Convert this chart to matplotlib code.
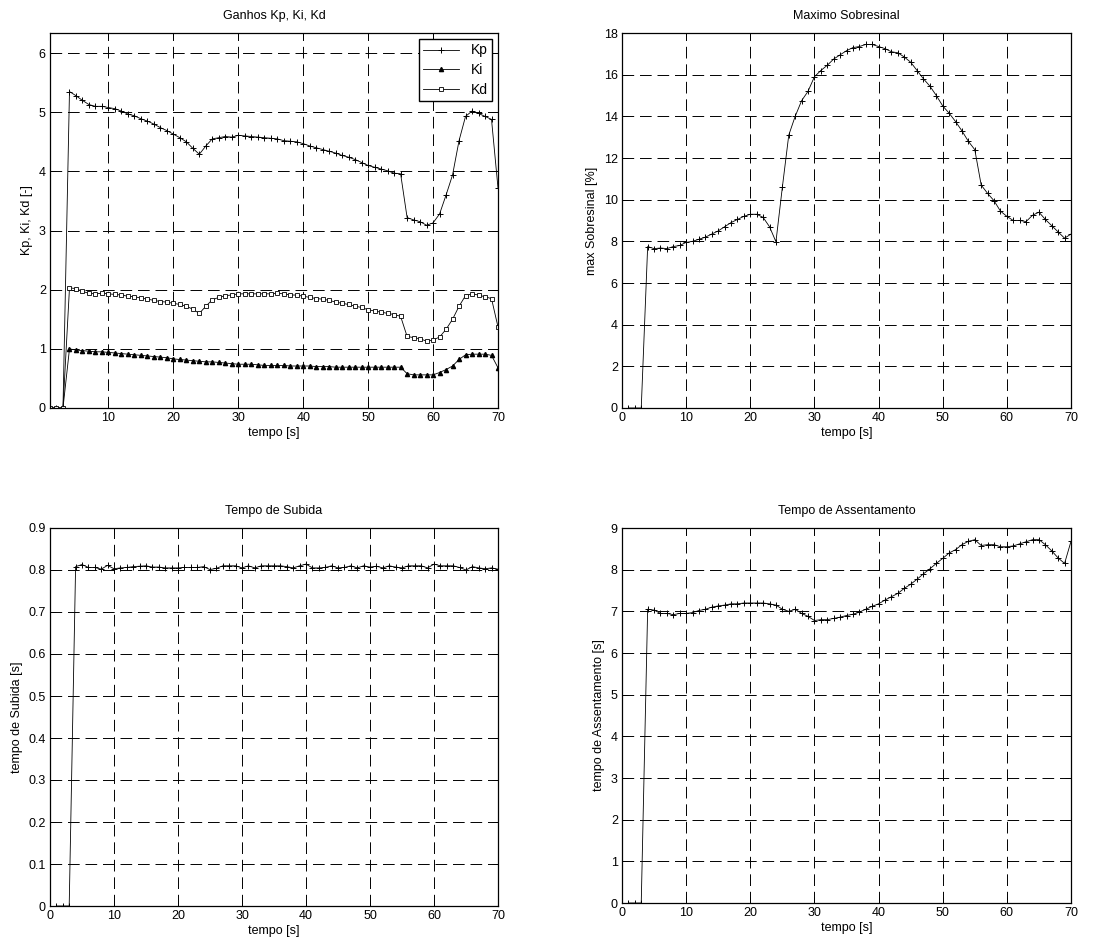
import numpy as np
import matplotlib.pyplot as plt

plt.rcParams['font.family'] = ['Liberation Sans', 'DejaVu Sans']
plt.rcParams['font.size'] = 9

tempo = np.arange(1, 71)

kp = [0, 0, 0, 5.35, 5.28, 5.20, 5.13, 5.10, 5.10, 5.08, 5.06, 5.02, 4.97, 4.94,
      4.89, 4.85, 4.80, 4.74, 4.69, 4.63, 4.57, 4.50, 4.39, 4.29, 4.43, 4.55,
      4.57, 4.59, 4.58, 4.61, 4.60, 4.59, 4.58, 4.57, 4.56, 4.55, 4.52, 4.51,
      4.50, 4.47, 4.43, 4.40, 4.37, 4.34, 4.31, 4.27, 4.24, 4.20, 4.15, 4.10,
      4.07, 4.04, 4.01, 3.97, 3.96, 3.22, 3.18, 3.15, 3.09, 3.13, 3.28, 3.60,
      3.94, 4.52, 4.93, 5.02, 4.98, 4.93, 4.88, 3.72]
ki = [0, 0, 0, 1.00, 0.98, 0.97, 0.96, 0.95, 0.95, 0.94, 0.93, 0.92, 0.91, 0.90,
      0.89, 0.88, 0.87, 0.86, 0.85, 0.83, 0.82, 0.81, 0.80, 0.79, 0.78, 0.78,
      0.77, 0.76, 0.75, 0.74, 0.74, 0.74, 0.73, 0.72, 0.72, 0.72, 0.72, 0.71,
      0.71, 0.71, 0.71, 0.70, 0.70, 0.70, 0.69, 0.69, 0.69, 0.69, 0.69, 0.69,
      0.69, 0.69, 0.69, 0.69, 0.69, 0.58, 0.56, 0.56, 0.56, 0.56, 0.60, 0.65,
      0.71, 0.82, 0.90, 0.91, 0.91, 0.91, 0.89, 0.68]
kd = [0, 0, 0, 2.03, 2.02, 1.97, 1.94, 1.93, 1.94, 1.93, 1.92, 1.91, 1.89, 1.88,
      1.86, 1.84, 1.82, 1.80, 1.79, 1.77, 1.75, 1.72, 1.67, 1.60, 1.72, 1.83,
      1.87, 1.90, 1.91, 1.93, 1.93, 1.93, 1.93, 1.93, 1.93, 1.94, 1.93, 1.91,
      1.91, 1.89, 1.87, 1.85, 1.84, 1.82, 1.79, 1.77, 1.75, 1.72, 1.70, 1.66,
      1.64, 1.62, 1.60, 1.58, 1.55, 1.21, 1.19, 1.17, 1.13, 1.15, 1.20, 1.33,
      1.50, 1.72, 1.90, 1.93, 1.91, 1.88, 1.85, 1.37]

sobresinal = [0, 0, 0, 7.75, 7.65, 7.68, 7.65, 7.75, 7.80, 7.95, 8.00, 8.10, 8.20,
              8.35, 8.50, 8.70, 8.90, 9.05, 9.20, 9.30, 9.30, 9.15, 8.70, 7.98,
              10.6, 13.1, 14.0, 14.75, 15.2, 15.9, 16.2, 16.45, 16.75, 16.95,
              17.15, 17.3, 17.35, 17.45, 17.45, 17.35, 17.25, 17.1, 17.05, 16.85,
              16.6, 16.2, 15.8, 15.45, 15.0, 14.5, 14.15, 13.75, 13.3, 12.8, 12.4,
              10.7, 10.3, 9.95, 9.45, 9.2, 9.0, 9.0, 8.95, 9.25, 9.4, 9.05, 8.75,
              8.45, 8.15, 8.35]

subida = [0, 0, 0, 0.808, 0.813, 0.806, 0.806, 0.802, 0.811, 0.803, 0.805, 0.806,
          0.808, 0.809, 0.810, 0.807, 0.807, 0.805, 0.805, 0.805, 0.806, 0.806,
          0.806, 0.808, 0.801, 0.804, 0.810, 0.810, 0.810, 0.805, 0.810, 0.805,
          0.810, 0.810, 0.810, 0.810, 0.808, 0.805, 0.810, 0.814, 0.805, 0.805,
          0.806, 0.810, 0.805, 0.806, 0.810, 0.805, 0.810, 0.807, 0.809, 0.805,
          0.810, 0.807, 0.805, 0.810, 0.810, 0.810, 0.805, 0.814, 0.810, 0.810,
          0.810, 0.806, 0.800, 0.808, 0.805, 0.803, 0.805, 0.802]

assentamento = [0, 0, 0, 7.05, 7.03, 6.95, 6.95, 6.92, 6.95, 6.95, 6.97, 7.02,
                7.05, 7.10, 7.13, 7.15, 7.18, 7.18, 7.20, 7.20, 7.20, 7.20, 7.18,
                7.15, 7.05, 7.00, 7.05, 6.95, 6.88, 6.78, 6.80, 6.80, 6.83, 6.86,
                6.90, 6.93, 6.98, 7.05, 7.12, 7.18, 7.27, 7.35, 7.43, 7.55, 7.65,
                7.77, 7.90, 8.02, 8.15, 8.27, 8.40, 8.48, 8.60, 8.68, 8.72, 8.58,
                8.60, 8.60, 8.55, 8.55, 8.57, 8.62, 8.67, 8.72, 8.72, 8.60, 8.45,
                8.28, 8.15, 8.68]

W, H = 1118, 946
fig = plt.figure(figsize=(W / 100, H / 100), dpi=100)


def make_axes(l, r, t, b):
    return fig.add_axes([l / W, 1 - b / H, (r - l) / W, (b - t) / H])


def style(ax):
    ax.grid(True, color='black', linestyle=(0, (12, 6)), linewidth=0.7)
    ax.tick_params(direction='in', top=True, right=True, length=4, width=0.7,
                   labelsize=9, pad=3)
    for s in ax.spines.values():
        s.set_linewidth(0.9)
    ax.set_xlabel('tempo [s]', fontsize=9, labelpad=2)


line_kw = dict(color='black', linewidth=0.6)

# Ganhos
ax1 = make_axes(50, 498, 33, 408)
ax1.plot(tempo, kp, marker='+', markersize=5, markeredgewidth=0.7, label='Kp', **line_kw)
ax1.plot(tempo, ki, marker='^', markersize=3, label='Ki', **line_kw)
ax1.plot(tempo, kd, marker='s', markersize=3.5, markerfacecolor='white',
         markeredgewidth=0.6, label='Kd', **line_kw)
ax1.set_xlim(1, 70)
ax1.set_ylim(0, 6.34)
ax1.set_xticks(range(10, 71, 10))
ax1.set_yticks(range(0, 7))
ax1.set_title('Ganhos Kp, Ki, Kd', fontsize=9, pad=10)
ax1.set_ylabel('Kp, Ki, Kd [-]', fontsize=9)
style(ax1)
leg = ax1.legend(loc='upper right', fancybox=False, edgecolor='black',
                 framealpha=1, fontsize=10, handlelength=2.6, borderpad=0.35,
                 labelspacing=0.4, borderaxespad=0.4)
leg.get_frame().set_linewidth(1.0)

# Maximo Sobresinal
ax2 = make_axes(622, 1071, 33, 408)
ax2.plot(tempo, sobresinal, marker='+', markersize=5, markeredgewidth=0.7, **line_kw)
ax2.set_xlim(0, 70)
ax2.set_ylim(0, 18)
ax2.set_xticks(range(0, 71, 10))
ax2.set_yticks(range(0, 19, 2))
ax2.set_title('Maximo Sobresinal', fontsize=9, pad=10)
ax2.set_ylabel('max Sobresinal [%]', fontsize=9)
style(ax2)

# Tempo de Subida
ax3 = make_axes(50, 498, 528, 906)
ax3.plot(tempo, subida, marker='+', markersize=5, markeredgewidth=0.7, **line_kw)
ax3.set_xlim(0, 70)
ax3.set_ylim(0, 0.9)
ax3.set_xticks(range(0, 71, 10))
ax3.set_yticks(np.arange(0, 0.91, 0.1))
ax3.set_yticklabels(['0'] + ['%.1f' % v for v in np.arange(0.1, 0.91, 0.1)])
ax3.set_title('Tempo de Subida', fontsize=9, pad=10)
ax3.set_ylabel('tempo de Subida [s]', fontsize=9)
style(ax3)

# Tempo de Assentamento
ax4 = make_axes(622, 1071, 528, 903)
ax4.plot(tempo, assentamento, marker='+', markersize=5, markeredgewidth=0.7, **line_kw)
ax4.set_xlim(0, 70)
ax4.set_ylim(0, 9)
ax4.set_xticks(range(0, 71, 10))
ax4.set_yticks(range(0, 10))
ax4.set_title('Tempo de Assentamento', fontsize=9, pad=10)
ax4.set_ylabel('tempo de Assentamento [s]', fontsize=9)
style(ax4)

plt.savefig('out.png', dpi=100)
